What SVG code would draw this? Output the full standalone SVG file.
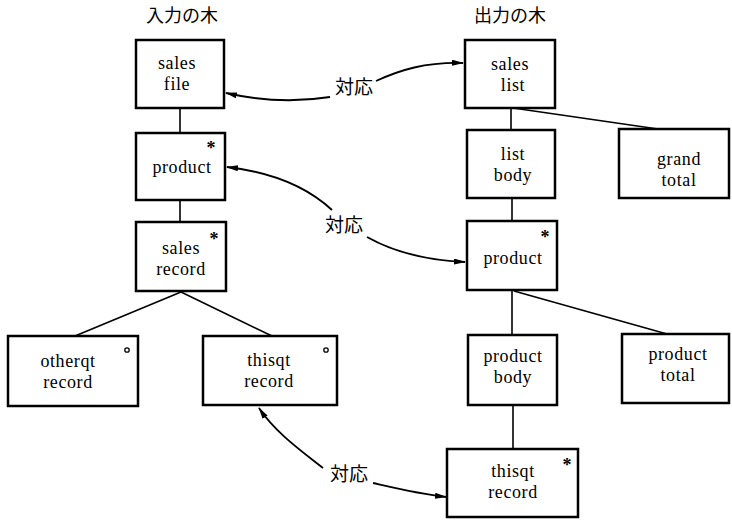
<svg xmlns="http://www.w3.org/2000/svg" width="732" height="521" viewBox="0 0 732 521">
<style>
.box{fill:#fff;stroke:#000;stroke-width:2.5}
.t{font-family:"Liberation Serif","DejaVu Serif",serif;font-size:18px;letter-spacing:0.6px;text-anchor:middle;fill:#000}
.jp{font-family:"Noto Sans CJK JP",sans-serif;font-size:19px;text-anchor:middle;fill:#000}
.ttl{font-family:"Noto Sans CJK JP",sans-serif;font-size:18px;text-anchor:middle;fill:#000}
.ast{font-family:"Liberation Serif",serif;font-size:18px;font-weight:bold;text-anchor:middle;fill:#000}
.dot{fill:#fff;stroke:#000;stroke-width:1.3}
.edge{stroke:#000;stroke-width:1.6;fill:none}
.corr{stroke:#000;stroke-width:1.8;fill:none;marker-end:url(#ah)}
</style>
<defs>
<marker id="ah" viewBox="0 0 12 6" refX="11" refY="3" markerWidth="12" markerHeight="6" markerUnits="userSpaceOnUse" orient="auto">
<path d="M0,0 L12,3 L0,6 z" fill="#000"/>
</marker>
</defs>
<rect width="732" height="521" fill="#fff"/>
<text class="ttl" x="182" y="22">入力の木</text>
<text class="ttl" x="510" y="22">出力の木</text>
<g id="connectors">
<line class="edge" x1="180" y1="108" x2="180" y2="133"/>
<line class="edge" x1="180" y1="200" x2="180" y2="222"/>
<line class="edge" x1="181" y1="292" x2="75" y2="336"/>
<line class="edge" x1="181" y1="292" x2="272" y2="336"/>
<line class="edge" x1="511" y1="108" x2="511" y2="130"/>
<line class="edge" x1="513" y1="108" x2="658" y2="129"/>
<line class="edge" x1="512" y1="198" x2="512" y2="221"/>
<line class="edge" x1="512" y1="290" x2="512" y2="335"/>
<line class="edge" x1="514" y1="291" x2="667" y2="334"/>
<line class="edge" x1="513" y1="405" x2="513" y2="449"/>
<path class="corr" d="M330,97 C305,101 270,103 226,93"/>
<path class="corr" d="M376,81 C400,70 425,62 463,63"/>
<path class="corr" d="M332,210 C305,185 270,172 227,167"/>
<path class="corr" d="M367,237 C390,250 420,260 465,262"/>
<path class="corr" d="M323,468 C300,450 275,432 259,408"/>
<path class="corr" d="M373,483 C395,488 420,494 446,497"/>
<text class="jp" x="354" y="94">対応</text>
<text class="jp" x="344" y="232">対応</text>
<text class="jp" x="349" y="481">対応</text>
</g>
<g id="sales-file">
<rect class="box" x="136" y="40" width="88" height="68"/>
<text class="t" x="177" y="69">sales</text>
<text class="t" x="177" y="90">file</text>
</g>
<g id="product-in">
<rect class="box" x="136" y="133" width="89" height="67"/>
<text class="t" x="182" y="173">product</text>
<text class="ast" x="211" y="154">*</text>
</g>
<g id="sales-record">
<rect class="box" x="136" y="222" width="90" height="69"/>
<text class="t" x="181" y="254">sales</text>
<text class="t" x="181" y="275">record</text>
<text class="ast" x="214" y="245">*</text>
</g>
<g id="otherqt-record">
<rect class="box" x="8" y="336" width="130" height="70"/>
<text class="t" x="68" y="367">otherqt</text>
<text class="t" x="68" y="388">record</text>
<circle class="dot" cx="127" cy="350" r="2.2"/>
</g>
<g id="thisqt-record-in">
<rect class="box" x="203" y="336" width="134" height="69"/>
<text class="t" x="269" y="366">thisqt</text>
<text class="t" x="269" y="387">record</text>
<circle class="dot" cx="326" cy="350" r="2.2"/>
</g>
<g id="sales-list">
<rect class="box" x="465" y="40" width="90" height="68"/>
<text class="t" x="510" y="70">sales</text>
<text class="t" x="513" y="91">list</text>
</g>
<g id="list-body">
<rect class="box" x="467" y="130" width="88" height="68"/>
<text class="t" x="513" y="160">list</text>
<text class="t" x="513" y="181">body</text>
</g>
<g id="grand-total">
<rect class="box" x="619" y="129" width="110" height="69"/>
<text class="t" x="679" y="165">grand</text>
<text class="t" x="679" y="186">total</text>
</g>
<g id="product-out">
<rect class="box" x="467" y="221" width="90" height="69"/>
<text class="t" x="513" y="264">product</text>
<text class="ast" x="545" y="243">*</text>
</g>
<g id="product-body">
<rect class="box" x="468" y="335" width="89" height="70"/>
<text class="t" x="513" y="362">product</text>
<text class="t" x="513" y="383">body</text>
</g>
<g id="product-total">
<rect class="box" x="622" y="334" width="107" height="69"/>
<text class="t" x="678" y="360">product</text>
<text class="t" x="678" y="381">total</text>
</g>
<g id="thisqt-record-out">
<rect class="box" x="447" y="449" width="131" height="68"/>
<text class="t" x="513" y="477">thisqt</text>
<text class="t" x="513" y="498">record</text>
<text class="ast" x="567" y="471">*</text>
</g>
</svg>
